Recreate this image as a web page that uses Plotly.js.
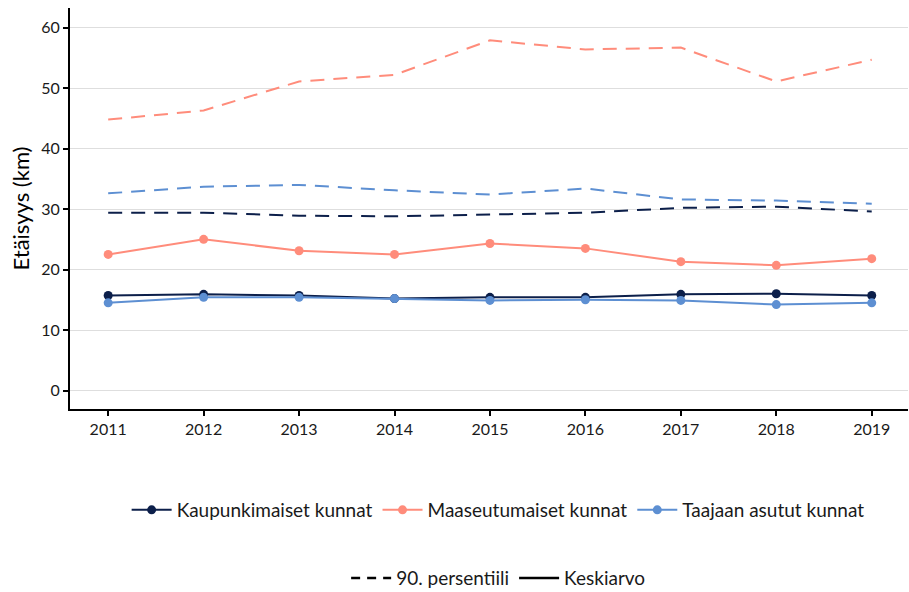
<!DOCTYPE html>
<html><head><meta charset="utf-8">
<script src="https://cdn.plot.ly/plotly-3.0.1.min.js"></script>
<style>html,body{margin:0;padding:0;background:#fff}#chart{width:909px;height:592px}</style>
</head><body><div id="chart"></div>
<script>
const years = [2011, 2012, 2013, 2014, 2015, 2016, 2017, 2018, 2019];
const seriesNames = ["Kaupunkimaiset kunnat", "Maaseutumaiset kunnat", "Taajaan asutut kunnat"];
const kaupunkiMean = [15.7, 15.9, 15.7, 15.2, 15.4, 15.4, 15.9, 16.0, 15.7];
const maaseutuMean = [22.5, 25.0, 23.1, 22.5, 24.3, 23.5, 21.3, 20.7, 21.8];
const taajaanMean  = [14.5, 15.4, 15.4, 15.2, 14.9, 15.0, 14.9, 14.2, 14.5];
const kaupunkiP90  = [29.4, 29.4, 28.9, 28.8, 29.1, 29.4, 30.2, 30.4, 29.6];
const maaseutuP90  = [44.8, 46.3, 51.1, 52.2, 57.9, 56.4, 56.7, 51.1, 54.7];
const taajaanP90   = [32.6, 33.7, 34.0, 33.1, 32.4, 33.4, 31.6, 31.4, 30.9];
const lineTypeNames = ["90. persentiili", "Keskiarvo"];

const colors = ["#0c1f4a", "#ff8c7b", "#5d8fd2"];
const means = [kaupunkiMean, maaseutuMean, taajaanMean];
const p90s = [kaupunkiP90, maaseutuP90, taajaanP90];
const dashStyle = "14px,9px";

const traces = [];
p90s.forEach((v, i) => traces.push({
  x: years, y: v, type: "scatter", mode: "lines", showlegend: false,
  line: {color: colors[i], width: 2, dash: dashStyle}
}));
means.forEach((v, i) => traces.push({
  x: years, y: v, type: "scatter", mode: "lines+markers", showlegend: false,
  line: {color: colors[i], width: 2}, marker: {color: colors[i], size: 9}
}));
seriesNames.forEach((n, i) => traces.push({
  x: [null], y: [null], type: "scatter", mode: "lines+markers", name: n,
  line: {color: colors[i], width: 2}, marker: {color: colors[i], size: 9}, legend: "legend"
}));
lineTypeNames.forEach((n, i) => traces.push({
  x: [null], y: [null], type: "scatter", mode: "lines", name: n,
  line: {color: "#000", width: 2.5, dash: i === 0 ? "9px,7px" : "solid"}, legend: "legend2"
}));

const font = {family: "Lato, 'Open Sans', sans-serif", color: "#1a1a1a"};
const layout = {
  width: 909, height: 592,
  margin: {l: 70, r: 1, t: 8, b: 183, autoexpand: false},
  paper_bgcolor: "#fff", plot_bgcolor: "#fff",
  font: Object.assign({size: 16}, font),
  xaxis: {
    range: [2010.6, 2019.38], tickmode: "array", tickvals: years, ticktext: years.map(String),
    showgrid: false, zeroline: false, showline: true, linecolor: "#000", linewidth: 2,
    ticks: "outside", ticklen: 5, tickcolor: "#000", tickwidth: 2,
    tickfont: {size: 16, color: "#1a1a1a"}
  },
  yaxis: {
    range: [-3.06, 63.25], tickvals: [0, 10, 20, 30, 40, 50, 60],
    showgrid: true, gridcolor: "#dedede", gridwidth: 1, zeroline: false,
    showline: true, linecolor: "#000", linewidth: 2,
    ticks: "outside", ticklen: 5, tickcolor: "#000", tickwidth: 2,
    tickfont: {size: 16, color: "#1a1a1a"},
    title: {text: "Etäisyys (km)", font: {size: 22, color: "#000"}, standoff: 6}
  },
  legend: {
    orientation: "h", xref: "container", yref: "container",
    x: 0.548, xanchor: "center", y: 0.1385, yanchor: "middle",
    font: {size: 19, color: "#1a1a1a"}, bgcolor: "rgba(0,0,0,0)", itemwidth: 40
  },
  legend2: {
    orientation: "h", xref: "container", yref: "container",
    x: 0.548, xanchor: "center", y: 0.0236, yanchor: "middle",
    font: {size: 19, color: "#1a1a1a"}, bgcolor: "rgba(0,0,0,0)", itemwidth: 40
  },
  showlegend: true
};
Plotly.newPlot("chart", traces, layout, {displayModeBar: false, staticPlot: true});
</script></body></html>
